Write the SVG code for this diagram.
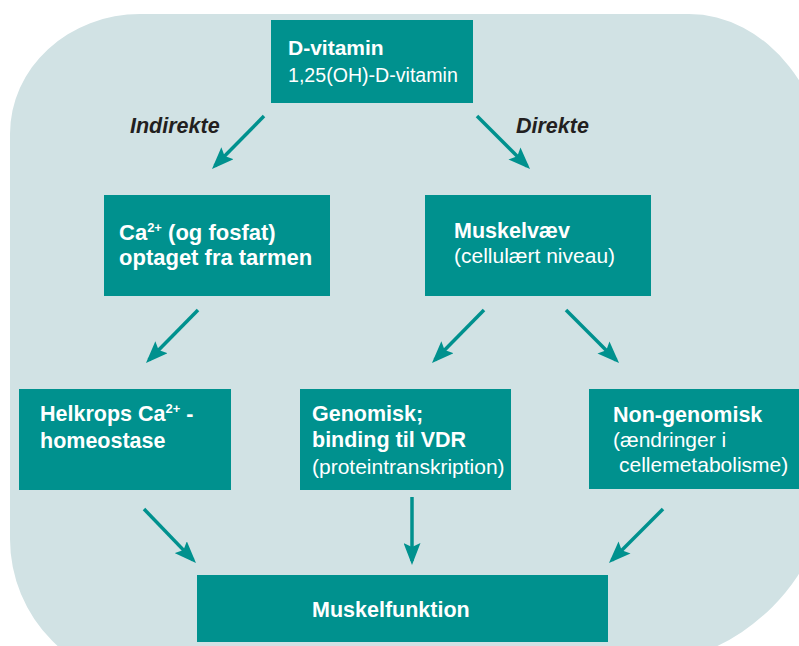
<svg xmlns="http://www.w3.org/2000/svg" width="799" height="646" viewBox="0 0 799 646">
<defs>
<style>
.bg{fill:#d1e2e4}
.box{fill:#00918e}
.t{font-family:"Liberation Sans",Arial,sans-serif;fill:#ffffff;font-size:21px}
.b{font-weight:bold;font-size:21.5px}
.lbl{font-family:"Liberation Sans",Arial,sans-serif;fill:#231f20;font-size:21.5px;font-weight:bold;font-style:italic}
.c{stroke:#00918e;stroke-width:3.5;fill:none;marker-end:url(#ah)}
</style>
<marker id="ah" markerUnits="userSpaceOnUse" markerWidth="22" markerHeight="17" refX="18" refY="8.5" orient="auto">
<path d="M0,0 L22,8.5 L0,17 L4,8.5 Z" fill="#00918e"/>
</marker>
</defs>
<path class="bg" d="M140,14 H689 A142,180 0 0 1 831,194 V465 A201,201 0 0 1 630,666 L154,683 A144,144 0 0 1 10,539 V134 A130,120 0 0 1 140,14 Z"/>
<g id="connectors">
<line class="c" x1="264" y1="116" x2="214.8" y2="166.1"/>
<line class="c" x1="477" y1="116" x2="527.2" y2="166.2"/>
<line class="c" x1="198" y1="310" x2="148.8" y2="360.1"/>
<line class="c" x1="484" y1="310" x2="434.8" y2="360.1"/>
<line class="c" x1="566" y1="310" x2="616.2" y2="360.2"/>
<line class="c" x1="144" y1="509" x2="193.2" y2="560.1"/>
<line class="c" x1="412" y1="497" x2="412" y2="561"/>
<line class="c" x1="663" y1="509" x2="611.8" y2="560.2"/>
<text class="lbl" x="130" y="133">Indirekte</text>
<text class="lbl" x="516" y="133">Direkte</text>
</g>
<g id="dvitamin">
<rect class="box" x="271" y="20" width="202" height="83"/>
<text class="t b" x="288" y="55" style="font-size:21px">D-vitamin</text>
<text class="t" x="288" y="82" style="font-size:19.6px">1,25(OH)-D-vitamin</text>
</g>
<g id="calcium">
<rect class="box" x="104" y="195" width="226" height="101"/>
<text class="t b" x="119" y="240" style="font-size:22px">Ca<tspan font-size="13" dy="-8">2+</tspan><tspan dy="8"> (og fosfat)</tspan></text>
<text class="t b" x="119" y="265" style="font-size:22px">optaget fra tarmen</text>
</g>
<g id="muskelvaev">
<rect class="box" x="425" y="195" width="226" height="101"/>
<text class="t b" x="454" y="238">Muskelvæv</text>
<text class="t" x="454" y="263">(cellulært niveau)</text>
</g>
<g id="helkrops">
<rect class="box" x="19" y="389" width="212" height="101"/>
<text class="t b" x="40" y="421">Helkrops Ca<tspan font-size="13" dy="-8">2+</tspan><tspan dy="8"> -</tspan></text>
<text class="t b" x="40" y="448">homeostase</text>
</g>
<g id="genomisk">
<rect class="box" x="300" y="389" width="211" height="101"/>
<text class="t b" x="312" y="421">Genomisk;</text>
<text class="t b" x="312" y="447">binding til VDR</text>
<text class="t" x="312" y="474">(proteintranskription)</text>
</g>
<g id="nongenomisk">
<rect class="box" x="589" y="389" width="220" height="100"/>
<text class="t b" x="613" y="422">Non-genomisk</text>
<text class="t" x="613" y="447">(ændringer i</text>
<text class="t" x="619" y="472">cellemetabolisme)</text>
</g>
<g id="muskelfunktion">
<rect class="box" x="197" y="575" width="411" height="67"/>
<text class="t b" x="312" y="617">Muskelfunktion</text>
</g>
</svg>
